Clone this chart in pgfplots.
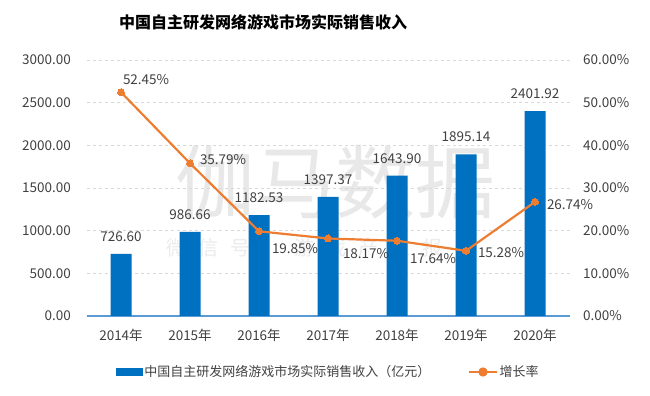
\documentclass[border=0pt]{standalone}
\usepackage{fontspec}
\setmainfont{Noto Sans CJK SC}
\usepackage{pgfplots}
\pgfplotsset{compat=1.18}
\usepackage{pgfplotstable}
\definecolor{barblue}{HTML}{0070C0}
\definecolor{lineorange}{HTML}{ED7D31}
\definecolor{gridgray}{HTML}{D9D9D9}
\definecolor{axisblue}{HTML}{5B9BD5}
\definecolor{txt}{HTML}{404040}

\pgfplotstableread{
x bar lbl
0 726.60 726.60
1 986.66 986.66
2 1182.53 1182.53
3 1397.37 1397.37
4 1643.90 1643.90
5 1895.14 1895.14
6 2401.92 2401.92
}\bardata

\pgfplotstableread{
x rate xs ys
0 52.45 2 13
1 35.79 10 4
2 19.85 13 -17
3 18.17 15 -15
4 17.64 13 -18
5 15.28 12 -2
6 26.74 12 -3
}\ratedata

\newcommand{\tfont}{\fontsize{13.5bp}{15bp}\selectfont}

\begin{document}
\begin{tikzpicture}
\path[use as bounding box] (0,0) rectangle (650bp,396bp);
% watermark
\node[text=black!9, font=\fontsize{80bp}{84bp}\selectfont] at (335bp,214bp) {伽马数据};
\node[text=black!8, font=\fontsize{20bp}{22bp}\selectfont] at (320bp,148bp) {微\hspace{12bp}信\hspace{12bp}号\hspace{12bp}：\hspace{12bp}游\hspace{12bp}戏\hspace{12bp}产\hspace{12bp}业\hspace{12bp}报\hspace{12bp}告};
% title
\node[text=black, font=\fontsize{16bp}{18bp}\selectfont\bfseries] at (263bp,374bp) {中国自主研发网络游戏市场实际销售收入};

\begin{axis}[
  at={(86.5bp,80bp)}, anchor=south west,
  scale only axis, width=483bp, height=256bp,
  xmin=-0.5, xmax=6.5, ymin=0, ymax=3000,
  ytick={0,500,...,3000},
  xtick={0,...,6},
  xticklabels={2014年,2015年,2016年,2017年,2018年,2019年,2020年},
  /pgf/number format/assume math mode=true,
  yticklabel={\pgfmathprintnumber[fixed,fixed zerofill,precision=2,1000 sep={}]{\tick}},
  tick label style={font=\tfont, text=txt, inner sep=0pt},
  yticklabel style={xshift=-15.5bp},
  xticklabel style={yshift=-13bp},
  major tick length=0pt,
  axis x line*=bottom, axis y line*=left,
  x axis line style={draw=axisblue, line width=1.2bp, -},
  y axis line style={draw=none},
  ymajorgrids,
  grid style={gridgray, line width=0.8bp, dash pattern=on 3bp off 3bp},
  ybar, bar width=21bp,
  nodes near coords,
  point meta=explicit symbolic,
  every node near coord/.append style={font=\tfont, text=txt, inner sep=0pt, anchor=south, yshift=12bp},
  legend style={draw=none, fill=none, at={(0.5,-0.21875)}, anchor=center,
    legend columns=2, font=\fontsize{13bp}{15bp}\selectfont, text=txt,
    nodes={inner sep=1.5bp},
    /tikz/every even column/.append style={column sep=36bp}},
]
\addplot[fill=barblue, draw=none,
  legend image code/.code={\fill[barblue] (0bp,-3.5bp) rectangle (27bp,3.5bp);}]
  table[x=x, y=bar, meta=lbl] {\bardata};
\addlegendentry{中国自主研发网络游戏市场实际销售收入（亿元）}
\addlegendimage{lineorange, line width=2.2bp,
  legend image code/.code={\draw[lineorange, line width=2.2bp] (0bp,0bp) -- (28bp,0bp); \fill[lineorange] (14bp,0bp) circle (3.5bp);}}
\addlegendentry{增长率}
\end{axis}

\begin{axis}[
  at={(86.5bp,80bp)}, anchor=south west,
  scale only axis, width=483bp, height=256bp,
  xmin=-0.5, xmax=6.5, ymin=0, ymax=60,
  ytick={0,10,...,60},
  axis x line=none,
  axis y line*=right,
  y axis line style={draw=none},
  major tick length=0pt,
  /pgf/number format/assume math mode=true,
  yticklabel={\pgfmathprintnumber[fixed,fixed zerofill,precision=2]{\tick}\%},
  tick label style={font=\tfont, text=txt, inner sep=0pt},
  yticklabel style={xshift=13.5bp},
]
\addplot[lineorange, line width=2.2bp, mark=*, mark size=3.5bp,
  mark options={fill=lineorange, draw=lineorange, line width=0pt},
  visualization depends on={\thisrow{xs} \as \lxs},
  visualization depends on={\thisrow{ys} \as \lys},
  nodes near coords={\pgfmathprintnumber[fixed,fixed zerofill,precision=2]{\pgfplotspointmeta}\%},
  point meta=explicit,
  every node near coord/.append style={font=\tfont, text=txt, inner sep=0pt, anchor=west, xshift=\lxs bp, yshift=\lys bp},
] table[x=x, y=rate, meta=rate] {\ratedata};
\end{axis}
\end{tikzpicture}
\end{document}
